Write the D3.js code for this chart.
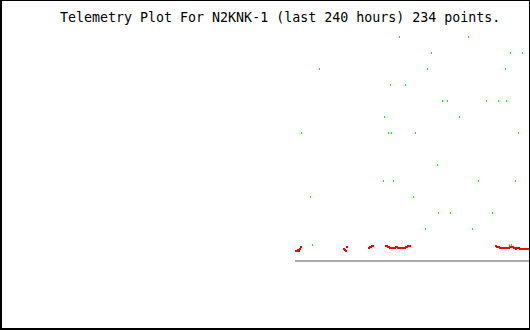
<!DOCTYPE html>
<html>
<head>
<meta charset="utf-8">
<script src="https://cdn.jsdelivr.net/npm/d3@7"></script>
<style>
  html, body { margin: 0; padding: 0; background: #fff; }
  svg { display: block; }
</style>
</head>
<body>
<svg id="chart" width="530" height="330"></svg>
<script>
// ---- data ----
const titleText = "Telemetry Plot For N2KNK-1 (last 240 hours) 234 points.";
const hoursSpan = 240;

// green series: time (hours into the 240h window) and value
const greenHours = [
  147.2, 164.4,
  180.7, 211.9,
  195.2, 230.9, 236.4,
  144.5, 193.4, 228.7,
  176.6, 183.4,
  200.2, 202.4, 220.1, 225.5, 229.1,
  173.9, 207.8,
  136.3, 175.7, 177.1, 187.9, 234.6,
  197.9,
  173.4, 178.0, 216.5, 233.2,
  140.4, 187.0,
  198.3, 203.8, 222.8,
  192.5, 213.7,
  141.3, 230.5, 231.4
];
const greenValues = [
  240, 240,
  224, 224,
  208, 208, 208,
  192, 192, 192,
  176, 176,
  160, 160, 160, 160, 160,
  144, 144,
  128, 128, 128, 128, 128,
  96,
  80, 80, 80, 80,
  64, 64,
  48, 48, 48,
  32, 32,
  16, 16, 16
];

// red series: time and value
const redHours = [
  133.6, 134.0, 134.5, 134.9, 135.4, 135.8,
  155.3, 155.8, 156.2, 156.7,
  166.6, 167.1, 167.5, 168.0, 168.5,
  174.3, 174.8, 175.2, 175.7, 176.2, 176.6, 177.1, 177.5, 178.0, 178.4,
  178.9, 179.3, 179.8, 180.2, 180.7, 181.1, 181.6, 182.0, 182.5, 182.9,
  183.4, 183.8, 184.3, 184.8, 185.2,
  224.2, 224.6, 225.1, 225.5, 226.0, 226.4, 226.9, 227.3, 227.8, 228.2,
  228.7, 229.1, 229.6, 230.0, 230.5, 230.9, 231.4, 231.8, 232.3, 232.8,
  233.2, 233.7, 234.1, 234.6, 235.0, 235.5, 235.9, 236.4, 236.8, 237.3,
  237.7, 238.2, 238.6, 239.1
];
const redValues = [
  10, 10, 11, 10, 12, 14,
  12, 11, 10, 14,
  13, 14, 14, 15, 15,
  15, 15, 14, 14, 13, 13, 13, 13, 13, 13,
  14, 14, 13, 13, 13, 13, 13, 13, 13, 13,
  14, 14, 15, 15, 15,
  15, 14, 14, 14, 13, 13, 13, 13, 13, 13,
  13, 13, 13, 13, 14, 14, 14, 14, 13, 13,
  12, 13, 13, 13, 12, 12, 12, 12, 12, 12,
  12, 12, 12, 12
];

// ---- drawing ----
const W = 530, H = 330;
const svg = d3.select("#chart").attr("shape-rendering", "crispEdges");

const x = d3.scaleLinear().domain([0, hoursSpan]).range([0, W]);
const y = d3.scaleLinear().domain([0, 240]).range([260, 20]);
const px = t => Math.round(x(t));
const py = v => Math.round(y(v));

svg.append("rect").attr("x", 0).attr("y", 0).attr("width", W).attr("height", H).attr("fill", "#fff");

// title (drawn beneath the points)
svg.append("text")
  .attr("x", 60).attr("y", 22)
  .attr("font-family", "'DejaVu Sans Mono', monospace")
  .attr("font-size", 13.3)
  .attr("fill", "#000")
  .attr("shape-rendering", "auto")
  .text(titleText);

// baseline spanning the data extent
const allHours = greenHours.concat(redHours);
const tMin = d3.min(allHours), tMax = d3.max(allHours);
svg.append("rect")
  .attr("x", px(tMin)).attr("y", py(0))
  .attr("width", px(tMax) - px(tMin) + 1).attr("height", 2)
  .attr("fill", "#a9a9a9");

// red points (2x2)
svg.append("g").selectAll("rect")
  .data(d3.range(redHours.length))
  .join("rect")
  .attr("x", i => px(redHours[i]))
  .attr("y", i => py(redValues[i]))
  .attr("width", 2).attr("height", 2)
  .attr("fill", "#ff0000");

// green points (1x2)
svg.append("g").selectAll("rect")
  .data(d3.range(greenHours.length))
  .join("rect")
  .attr("x", i => px(greenHours[i]))
  .attr("y", i => py(greenValues[i]))
  .attr("width", 1).attr("height", 2)
  .attr("fill", "#00ff00");

// frame
svg.append("rect").attr("x", 0).attr("y", 0).attr("width", W).attr("height", 1).attr("fill", "#000");
svg.append("rect").attr("x", 0).attr("y", 0).attr("width", 2).attr("height", H).attr("fill", "#000");
svg.append("rect").attr("x", W - 1).attr("y", 0).attr("width", 1).attr("height", H).attr("fill", "#000");
svg.append("rect").attr("x", 0).attr("y", H - 2).attr("width", W).attr("height", 2).attr("fill", "#000");
</script>
</body>
</html>
